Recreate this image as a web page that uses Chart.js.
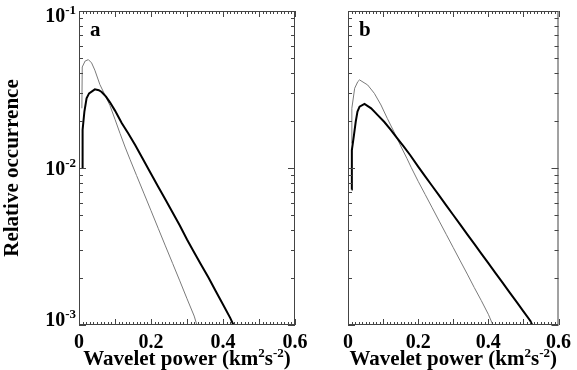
<!DOCTYPE html>
<html>
<head>
<meta charset="utf-8">
<script src="https://cdn.jsdelivr.net/npm/chart.js@4/dist/chart.umd.min.js"></script>
<style>
  html, body { margin: 0; padding: 0; background: #fff; }
  #wrap { position: relative; width: 577px; height: 370px; }
  #wrap canvas { position: absolute; top: 0; }
  #panelA { left: 0; }
  #panelB { left: 320px; }
</style>
</head>
<body>
<div id="wrap">
  <canvas id="panelA" width="320" height="370"></canvas>
  <canvas id="panelB" width="257" height="370"></canvas>
</div>
<script>
// axes
const xTickValues = [0, 0.2, 0.4, 0.6];
const xTickLabels = ['0', '0.2', '0.4', '0.6'];
const yTickValues = [0.001, 0.01, 0.1];
const yTickExponents = ['-3', '-2', '-1'];   // drawn as 10^exp
// x title pieces, sup = superscript
const xTitleParts = [
  { t: 'Wavelet power (km' }, { t: '2', sup: true }, { t: 's' }, { t: '-2', sup: true }, { t: ')' },
];
const yTitle = 'Relative occurrence';

// panel a — thick black curve
const powerA_thick = [0.009, 0.010, 0.015, 0.021, 0.028, 0.044, 0.055, 0.063, 0.075, 0.086, 0.100,
  0.119, 0.137, 0.156, 0.174, 0.20, 0.22, 0.24, 0.26, 0.28, 0.30, 0.32, 0.34, 0.36, 0.38, 0.40,
  0.42, 0.43];
const occA_thick = [0.0100, 0.0175, 0.0229, 0.0278, 0.0299, 0.0317, 0.0313, 0.0305, 0.0285, 0.0262,
  0.0232, 0.0193, 0.0166, 0.0140, 0.0118, 0.0092, 0.0076, 0.0063, 0.0052, 0.0043, 0.0035, 0.0029,
  0.0024, 0.0020, 0.00164, 0.00135, 0.00111, 0.00099];

// panel a — thin grey curve
const powerA_thin = [0.008, 0.009, 0.017, 0.026, 0.035, 0.044, 0.058, 0.072, 0.086, 0.100, 0.114,
  0.128, 0.142, 0.16, 0.18, 0.20, 0.22, 0.24, 0.26, 0.28, 0.30, 0.32, 0.328];
const occA_thin = [0.024, 0.044, 0.048, 0.049, 0.0467, 0.042, 0.034, 0.0292, 0.0250, 0.0204, 0.0166,
  0.0136, 0.0113, 0.00895, 0.00692, 0.00535, 0.00413, 0.00319, 0.00247, 0.00191, 0.00147, 0.00114,
  0.00099];

// panel b — thick black curve
const powerB_thick = [0.010, 0.011, 0.017, 0.022, 0.027, 0.033, 0.047, 0.066, 0.084, 0.103, 0.122,
  0.140, 0.159, 0.177, 0.20, 0.22, 0.24, 0.26, 0.28, 0.30, 0.32, 0.34, 0.36, 0.38, 0.40, 0.42,
  0.44, 0.46, 0.48, 0.50, 0.52, 0.526];
const occB_thick = [0.0073, 0.0130, 0.0162, 0.0197, 0.0229, 0.0246, 0.0256, 0.0240, 0.0218, 0.0197,
  0.0175, 0.0155, 0.0137, 0.0121, 0.0102, 0.00885, 0.00768, 0.00667, 0.00578, 0.00502, 0.00436,
  0.00378, 0.00329, 0.00285, 0.00248, 0.00215, 0.00187, 0.00162, 0.00141, 0.00122, 0.00106, 0.00099];

// panel b — thin grey curve
const powerB_thin = [0.010, 0.011, 0.019, 0.028, 0.033, 0.056, 0.075, 0.094, 0.112, 0.131, 0.149,
  0.168, 0.18, 0.20, 0.22, 0.24, 0.26, 0.28, 0.30, 0.32, 0.34, 0.36, 0.38, 0.40, 0.414];
const occB_thin = [0.0144, 0.0240, 0.0322, 0.0355, 0.0364, 0.0338, 0.0299, 0.0252, 0.0207, 0.0170,
  0.0140, 0.0115, 0.0101, 0.00823, 0.00678, 0.00558, 0.00459, 0.00378, 0.00311, 0.00256, 0.00211,
  0.00173, 0.00143, 0.00117, 0.00099];

const SERIF = '"Liberation Serif", "Times New Roman", "DejaVu Serif", serif';

function pts(xs, ys) {
  return xs.map((x, i) => ({ x: x, y: ys[i] }));
}

function font(size) { return 'bold ' + size + 'px ' + SERIF; }

// text with raised small pieces, centred on cx
function drawRich(ctx, parts, cx, baseline, size, supSize, rise) {
  let total = 0;
  parts.forEach(p => {
    ctx.font = font(p.sup ? supSize : size);
    p.w = ctx.measureText(p.t).width;
    total += p.w;
  });
  let x = cx - total / 2;
  parts.forEach(p => {
    ctx.font = font(p.sup ? supSize : size);
    ctx.fillText(p.t, x, p.sup ? baseline - rise : baseline);
    x += p.w;
  });
}

// IDL-style frame: box all round, ticks pointing inward on every side,
// plus panel letter, 10^n labels and the x title
const frameTicks = {
  id: 'frameTicks',
  afterDraw(chart, args, opts) {
    const ctx = chart.ctx;
    const a = chart.chartArea;
    const xs = chart.scales.x, ys = chart.scales.y;
    ctx.save();
    ctx.strokeStyle = '#444';
    ctx.lineWidth = 1;
    ctx.strokeRect(a.left + 0.5, a.top + 0.5, a.right - a.left - 1, a.bottom - a.top - 1);
    ctx.beginPath();
    for (let i = 0; i <= 60; i++) {
      const px = Math.round(xs.getPixelForValue(i / 100)) + 0.5;
      const len = i % 10 === 0 ? 6 : 3;
      ctx.moveTo(px, a.bottom); ctx.lineTo(px, a.bottom - len);
      ctx.moveTo(px, a.top); ctx.lineTo(px, a.top + len);
    }
    for (let e = -3; e <= -1; e++) {
      for (let m = 1; m <= 9; m++) {
        const v = m * Math.pow(10, e);
        if (v > 0.1 + 1e-12) break;
        const py = Math.round(ys.getPixelForValue(v)) + 0.5;
        const len = m === 1 ? 7 : 4;
        ctx.moveTo(a.left, py); ctx.lineTo(a.left + len, py);
        ctx.moveTo(a.right, py); ctx.lineTo(a.right - len, py);
      }
    }
    ctx.stroke();

    ctx.fillStyle = '#000';
    ctx.textAlign = 'left';
    ctx.textBaseline = 'alphabetic';
    ctx.font = font(21);
    ctx.fillText(opts.letter, a.left + 11, a.top + 25);

    if (opts.yLabels) {
      yTickValues.forEach((v, i) => {
        let cy = ys.getPixelForValue(v);
        cy = Math.min(Math.max(cy, a.top + 4), a.bottom - 6);
        ctx.font = font(13);
        const wSup = ctx.measureText(yTickExponents[i]).width;
        ctx.font = font(20);
        const wBase = ctx.measureText('10').width;
        const x0 = a.left - 3 - wSup - wBase;
        const base = cy + 6.5;
        ctx.fillText('10', x0, base);
        ctx.font = font(13);
        ctx.fillText(yTickExponents[i], x0 + wBase, base - 8);
      });
    }
    drawRich(ctx, xTitleParts, (a.left + a.right) / 2, 365, 21, 13, 8);
    ctx.restore();
  }
};

function makePanel(id, letter, thickX, thickY, thinX, thinY, showYLabels, yWidth, padRight) {
  return new Chart(document.getElementById(id), {
    type: 'line',
    data: {
      datasets: [
        { data: pts(thickX, thickY), borderColor: '#000', borderWidth: 2, pointRadius: 0, tension: 0 },
        { data: pts(thinX, thinY), borderColor: '#7a7a7a', borderWidth: 1, pointRadius: 0, tension: 0 },
      ],
    },
    options: {
      responsive: false,
      animation: false,
      events: [],
      layout: { padding: { top: 11, right: padRight, left: 0, bottom: 0 } },
      plugins: {
        legend: { display: false },
        tooltip: { enabled: false },
        frameTicks: { letter: letter, yLabels: showYLabels },
      },
      scales: {
        x: {
          type: 'linear', min: 0, max: 0.6, offset: false,
          grid: { display: false, drawTicks: false },
          border: { display: false },
          afterBuildTicks: s => { s.ticks = xTickValues.map(v => ({ value: v })); },
          afterFit: s => { s.height = 45; },
          ticks: {
            padding: 6, maxRotation: 0, autoSkip: false, color: '#000',
            font: { family: SERIF, size: 20, weight: 'bold' },
            callback: v => xTickLabels[xTickValues.indexOf(v)],
          },
        },
        y: {
          type: 'logarithmic', min: 0.001, max: 0.1,
          grid: { display: false, drawTicks: false },
          border: { display: false },
          afterBuildTicks: s => { s.ticks = yTickValues.map(v => ({ value: v })); },
          afterFit: s => { s.width = yWidth; },
          ticks: { display: false },
          title: {
            display: showYLabels, text: yTitle, color: '#000', padding: 0,
            font: { family: SERIF, size: 21, weight: 'bold' },
          },
        },
      },
    },
    plugins: [frameTicks],
  });
}

makePanel('panelA', 'a', powerA_thick, occA_thick, powerA_thin, occA_thin, true, 79, 25);
makePanel('panelB', 'b', powerB_thick, occB_thick, powerB_thin, occB_thin, false, 28, 13);
</script>
</body>
</html>
